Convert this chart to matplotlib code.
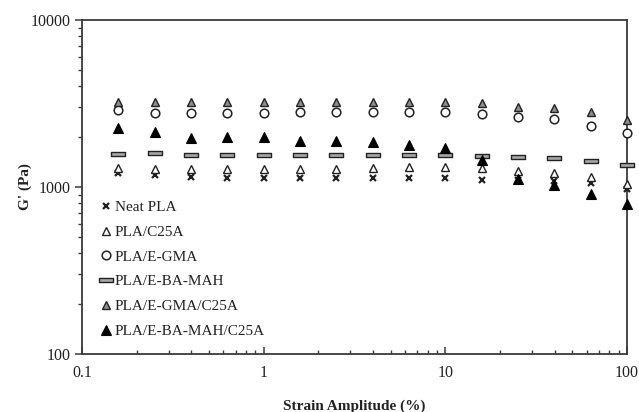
import matplotlib
matplotlib.use("Agg")
import matplotlib.pyplot as plt
from matplotlib.path import Path
from matplotlib.ticker import LogLocator, NullFormatter, FixedLocator, FixedFormatter

plt.rcParams['font.family'] = ['Liberation Serif', 'DejaVu Serif']

strain = [0.158, 0.251, 0.398, 0.631, 1.0, 1.585, 2.51, 3.98, 6.31, 10.0,
          15.85, 25.1, 39.8, 63.1, 100.0]

neat_pla = [1210, 1180, 1150, 1137, 1137, 1137, 1137, 1127, 1127, 1127,
            1101, 1101, 1086, 1052, 969]
pla_c25a = [1300, 1290, 1290, 1290, 1290, 1290, 1290, 1300, 1310, 1310,
            1300, 1247, 1208, 1153, 1038]
pla_egma = [2900, 2780, 2780, 2780, 2790, 2800, 2800, 2810, 2810, 2800,
            2724, 2636, 2553, 2328, 2113]
pla_ebamah = [1570, 1598, 1545, 1555, 1555, 1555, 1555, 1560, 1555, 1555,
              1534, 1520, 1493, 1432, 1355]
pla_egma_c25a = [3230, 3230, 3230, 3230, 3230, 3230, 3230, 3230, 3220, 3210,
                 3170, 3026, 2985, 2800, 2518]
pla_ebamah_c25a = [2270, 2125, 1975, 1985, 1985, 1895, 1895, 1860, 1780, 1710,
                   1460, 1117, 1028, 904, 787]

labels = ["Neat PLA", "PLA/C25A", "PLA/E-GMA", "PLA/E-BA-MAH",
          "PLA/E-GMA/C25A", "PLA/E-BA-MAH/C25A"]

rect_marker = Path([(-1, -0.28), (1, -0.28), (1, 0.28), (-1, 0.28), (-1, -0.28)],
                   [Path.MOVETO, Path.LINETO, Path.LINETO, Path.LINETO, Path.CLOSEPOLY])

fig = plt.figure(figsize=(6.39, 4.12), dpi=100)
ax = fig.add_axes([82/639, (412-354)/412, 545/639, 334/412])

common = dict(linestyle='none', clip_on=False, zorder=3)
ax.plot(strain, neat_pla, marker='x', markersize=4.2,
        markeredgewidth=1.6, color='#222222', label=labels[0], **common)
ax.plot(strain, pla_c25a, marker='^', markersize=6.2,
        markerfacecolor='white', markeredgecolor='#222222', markeredgewidth=1.0, label=labels[1], **common)
ax.plot(strain, pla_egma, marker='o', markersize=6.2,
        markerfacecolor='white', markeredgecolor='#222222', markeredgewidth=1.1, label=labels[2], **common)
ax.plot(strain, pla_ebamah, marker=rect_marker, markersize=10,
        markerfacecolor='#a8a8a8', markeredgecolor='#222222', markeredgewidth=1.0, label=labels[3], **common)
ax.plot(strain, pla_egma_c25a, marker='^', markersize=6.2,
        markerfacecolor='#8c8c8c', markeredgecolor='#222222', markeredgewidth=1.0, label=labels[4], **common)
ax.plot(strain, pla_ebamah_c25a, marker='^', markersize=6.6,
        markerfacecolor='black', markeredgecolor='black', markeredgewidth=0.8, label=labels[5], **common)

ax.set_xscale('log')
ax.set_yscale('log')
ax.set_xlim(0.1, 100)
ax.set_ylim(100, 10000)

ax.xaxis.set_major_locator(FixedLocator([0.1, 1, 10, 100]))
ax.xaxis.set_major_formatter(FixedFormatter(['0.1', '1', '10', '100']))
ax.xaxis.set_minor_locator(LogLocator(base=10, subs=range(2, 10)))
ax.xaxis.set_minor_formatter(NullFormatter())
ax.yaxis.set_major_locator(FixedLocator([100, 1000, 10000]))
ax.yaxis.set_major_formatter(FixedFormatter(['100', '1000', '10000']))
ax.yaxis.set_minor_locator(LogLocator(base=10, subs=range(2, 10)))
ax.yaxis.set_minor_formatter(NullFormatter())

for s in ax.spines.values():
    s.set_color('#3a3a3a')
    s.set_linewidth(1.3)

ax.tick_params(axis='x', which='major', direction='in', length=5, width=1.1,
               colors='#3a3a3a', labelcolor='#222222', labelsize=11.5, pad=8, top=False)
ax.tick_params(axis='x', which='minor', direction='in', length=3, width=1.0,
               colors='#3a3a3a', top=False)
ax.tick_params(axis='y', which='major', direction='out', length=5, width=1.1,
               colors='#3a3a3a', labelcolor='#222222', labelsize=11.5, pad=3, right=False)
ax.tick_params(axis='y', which='minor', direction='out', length=3, width=1.0,
               colors='#3a3a3a', right=False)

ax.set_xlabel('Strain Amplitude (%)', fontsize=11, fontweight='bold', labelpad=13, color='#222222')
ax.set_ylabel("G' (Pa)", fontsize=11, fontweight='bold', labelpad=-1, color='#222222')

leg = ax.legend(loc='lower left', bbox_to_anchor=(0.025, 0.03), frameon=False,
                fontsize=11, handlelength=0.6, handletextpad=0.25, labelspacing=0.72,
                borderaxespad=0.2, borderpad=0.2, numpoints=1)
for t in leg.get_texts():
    t.set_color('#222222')

fig.savefig('out.png', dpi=100)
